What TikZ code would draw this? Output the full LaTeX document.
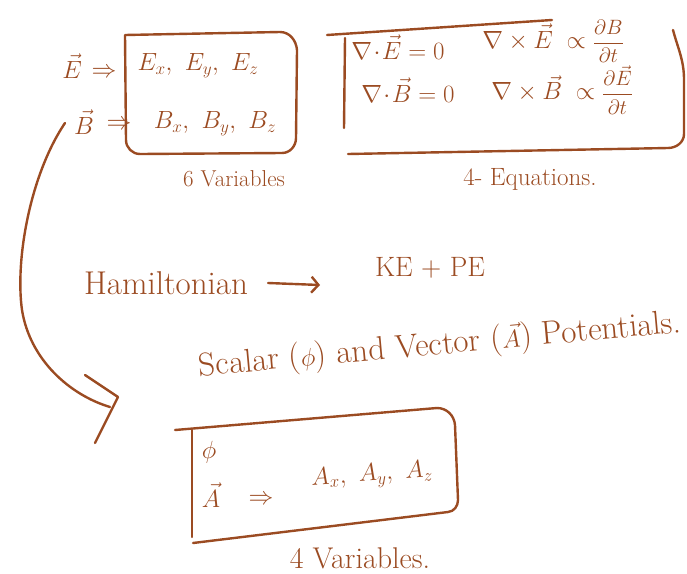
\documentclass[tikz,border=0pt]{standalone}
\usepackage{amsmath}
\usetikzlibrary{arrows.meta,positioning}
\definecolor{inkbrown}{HTML}{9B4B22}
\tikzset{
  pen/.style={draw=inkbrown, line width=2.4pt, line cap=round, line join=round},
  hand/.style={text=inkbrown, inner sep=0pt, font=\fontsize{27}{31}\selectfont},
  handbig/.style={hand, font=\fontsize{33}{37}\selectfont},
  handsmall/.style={hand, font=\fontsize{23}{27}\selectfont},
  arr/.style={pen, -{Straight Barb[length=7pt,width=16pt]}},
}
\newcommand{\smallfrac}[2]{{\fontsize{21}{23}\selectfont$\dfrac{#1}{#2}$}}

\begin{document}
\begin{tikzpicture}[x=1pt,y=-1pt]
  \useasboundingbox (0,0) rectangle (687,573);
  % fields and their six components
  \node[hand] (vecE) at (72,66) {$\vec{E}$};
  \node[handsmall] (implE) at (104,73) {$\Rightarrow$};
  \node[hand] (vecB) at (84,122) {$\vec{B}$};
  \node[handsmall] (implB) at (119,125) {$\Rightarrow$};
  \node[hand] (exyz) at (198,66) {$E_x,\ E_y,\ E_z$};
  \node[hand] (bxyz) at (215,124) {$B_x,\ B_y,\ B_z$};
  \draw[pen] (125,35) -- (280,32) to[out=0,in=95] (297,50) -- (296,138) to[out=-90,in=0] (282,153) -- (140,154) to[out=180,in=-90] (126,140) -- cycle;
  \node[handsmall] (sixvar) at (234,179) {6 Variables};
  % Maxwell's four equations
  \node[handsmall] (divE) at (398,47) {$\nabla\!\cdot\!\vec{E} = 0$};
  \node[handsmall] (curlE) at (553,41) {$\nabla\times\vec{E} \;\propto\;$\smallfrac{\partial B}{\partial t}};
  \node[handsmall] (divB) at (408,90) {$\nabla\!\cdot\!\vec{B} = 0$};
  \node[handsmall] (curlB) at (562,90) {$\nabla\times\vec{B} \;\propto\;$\smallfrac{\partial \vec{E}}{\partial t}};
  \draw[pen] (327,35) -- (552,20);
  \draw[pen] (345,38) -- (344,128);
  \draw[pen] (348,154) -- (668,148) to[out=0,in=-90] (684,134) -- (684,80) to[out=90,in=-75] (673,30);
  \node[hand, font=\fontsize{25}{29}\selectfont] (foureq) at (530,179) {4- Equations.};
  % Hamiltonian and potentials
  \node[handbig] (ham) at (166,283) {Hamiltonian};
  \coordinate (hamtip) at (320,285);
  \draw[arr] ([xshift=20pt]ham.east) -- (hamtip);
  \node[hand, font=\fontsize{28}{32}\selectfont] (kepe) at (430,268) {KE + PE};
  \node[handbig, rotate=5.2] (pots) at (440,346) {Scalar ($\phi$) and Vector ($\vec{A}$) Potentials.};
  % curved arrow down to the potentials box
  \coordinate (tail) at (65,123);
  \coordinate (landing) at (110,407);
  \coordinate (tip) at (118,397);
  \draw[pen] (tail) .. controls (30,175) and (15,260) .. (22,310) .. controls (30,360) and (70,395) .. (landing);
  \draw[pen] (tip) ++(-33,-22) -- (tip) -- ++(-23,46);
  % four potential components
  \draw[pen] (175,430) -- (437,408) to[out=0,in=95] (455,425) -- (458,500) to[out=-90,in=5] (448,512) -- (193,543);
  \draw[pen] (192,430) -- (192,537);
  \node[hand] (phi) at (209,452) {$\phi$};
  \node[hand] (vecA) at (211,495) {$\vec{A}$};
  \node[handsmall] (implA) at (261,500) {$\Rightarrow$};
  \node[hand, rotate=4] (axyz) at (372,476) {$A_x,\ A_y,\ A_z$};
  \node[hand, font=\fontsize{30}{34}\selectfont] (fourvar) at (360,558) {4 Variables.};
\end{tikzpicture}
\end{document}
